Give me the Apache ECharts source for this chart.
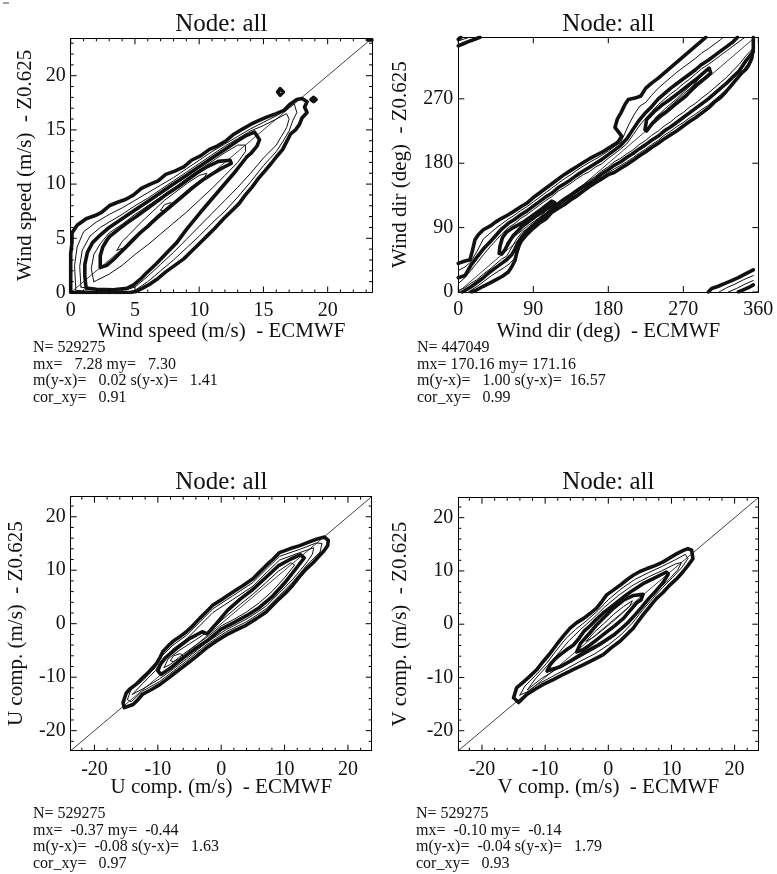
<!DOCTYPE html>
<html><head><meta charset="utf-8">
<script src="https://cdn.jsdelivr.net/npm/echarts@6/dist/echarts.min.js"></script>
<style>html,body{margin:0;padding:0;background:#fff}#c{width:777px;height:874px}</style>
</head><body><div id="c"></div>
<script>
// ---------------- tick values & extents ----------------
const wsMajor = [0, 5, 10, 15, 20];
const wsMinor = [1,2,3,4,6,7,8,9,11,12,13,14,16,17,18,19,21,22,23];
const wdMajor = [0, 90, 180, 270, 360];
const uvMajor = [-20, -10, 0, 10, 20];
const uvMinor = [-22,-18,-16,-14,-12,-8,-6,-4,-2,2,4,6,8,12,14,16,18,22];
const wsRange = [0, 23.45];
const wdRangeX = [0, 360];
const wdRangeY = [0, 356];
const uvRange = [-23.75, 23.75];

// ---------------- texts ----------------
const titles = ['Node: all', 'Node: all', 'Node: all', 'Node: all'];
const xNames = ['Wind speed (m/s)  - ECMWF', 'Wind dir (deg)  - ECMWF', 'U comp. (m/s)  - ECMWF', 'V comp. (m/s)  - ECMWF'];
const yNames = ['Wind speed (m/s)  - Z0.625', 'Wind dir (deg)  - Z0.625', 'U comp. (m/s)  - Z0.625', 'V comp. (m/s)  - Z0.625'];
const stats1 = ['N= 529275', 'mx=   7.28 my=   7.30', 'm(y-x)=   0.02 s(y-x)=   1.41', 'cor_xy=   0.91'];
const stats2 = ['N= 447049', 'mx= 170.16 my= 171.16', 'm(y-x)=   1.00 s(y-x)=  16.57', 'cor_xy=   0.99'];
const stats3 = ['N= 529275', 'mx=  -0.37 my=  -0.44', 'm(y-x)=  -0.08 s(y-x)=   1.63', 'cor_xy=   0.97'];
const stats4 = ['N= 529275', 'mx=  -0.10 my=  -0.14', 'm(y-x)=  -0.04 s(y-x)=   1.79', 'cor_xy=   0.93'];

// ---------------- panel 1: wind speed contours ----------------
const wsA = [[0,0],[0,1.5],[0,3.6],[0.1,4.6],[0.1,5.5],[0.5,6.2],[1.2,6.8],[1.9,7.1],[2.4,7.4],[3.0,8.0],[3.6,8.3],[4.3,8.6],[4.9,9.0],[5.5,9.6],[6.2,10.0],[6.8,10.3],[7.4,10.9],[8.1,11.2],[8.8,11.6],[9.4,12.2],[10.1,12.6],[10.8,13.2],[11.4,13.5],[12.1,14.0],[12.7,14.6],[13.4,15.1],[14.0,15.5],[14.7,15.9],[15.3,16.2],[16.0,16.5],[16.6,16.8],[17.1,17.4],[17.6,17.8],[18.0,17.9],[18.4,17.6],[18.2,17.1],[18.4,16.6],[18.0,16.1],[17.8,15.5],[17.5,15.0],[17.1,14.6],[16.8,13.9],[16.5,13.2],[16.0,12.5],[15.6,11.9],[15.1,11.2],[14.6,10.5],[14.1,9.7],[13.6,9.0],[13.1,8.2],[12.5,7.5],[11.9,6.8],[11.2,5.9],[10.6,5.2],[10.0,4.5],[9.4,3.8],[8.8,3.1],[8.1,2.5],[7.4,1.9],[6.8,1.3],[6.2,0.8],[5.6,0.4],[5.1,0.1],[4.6,0],[0,0]];
const wsIsl1 = [[16.1,18.5],[16.3,18.8],[16.55,18.5],[16.3,18.2],[16.1,18.5]];
const wsIsl2 = [[18.7,17.8],[18.9,18.0],[19.1,17.8],[18.9,17.6],[18.7,17.8]];
const wsIsl3 = [[23.15,23.3],[23.3,23.45],[23.45,23.3],[23.3,23.15],[23.15,23.3]];
const wsT1 = [[0.4,0.2],[0.3,2.5],[0.5,4.2],[1.0,5.6],[2.0,6.5],[3.0,7.2],[4.0,7.8],[5.0,8.5],[6.0,9.2],[7.0,9.9],[8.0,10.6],[9.0,11.4],[10.0,12.2],[11.0,13.0],[12.0,13.7],[13.0,14.4],[14.0,15.1],[15.0,15.7],[16.0,16.3],[16.8,16.9],[17.4,17.4],[17.6,16.6],[17.3,15.9],[17.0,14.9],[16.5,13.9],[16.0,13.0],[15.0,11.7],[14.0,10.2],[13.0,8.8],[12.0,7.5],[11.0,6.4],[10.0,5.2],[9.0,4.1],[8.0,3.0],[7.0,2.0],[6.0,1.0],[5.0,0.2],[4.6,0.05],[3.0,0.05],[1.5,0.1],[0.4,0.2]];
const wsT2 = [[0.8,0.5],[0.7,2.4],[0.9,3.9],[1.5,5.2],[2.3,6.0],[3.0,6.5],[4.0,7.2],[5.0,8.0],[6.0,8.7],[7.0,9.5],[8.0,10.3],[9.0,11.1],[10.0,11.9],[11.0,12.7],[12.0,13.5],[13.0,14.2],[14.0,14.9],[15.0,15.4],[16.0,16.0],[16.8,16.5],[17.0,16.0],[16.8,15.2],[16.4,14.4],[16.0,13.6],[15.0,12.4],[14.0,11.0],[13.0,9.7],[12.0,8.5],[11.0,7.3],[10.0,6.1],[9.0,4.9],[8.0,3.7],[7.0,2.6],[6.0,1.5],[5.0,0.5],[4.3,0.25],[3.0,0.3],[1.8,0.3],[0.8,0.5]];
const wsB = [[1.2,0.4],[1.1,1.5],[1.1,2.6],[1.3,3.7],[1.7,4.6],[2.3,5.3],[3.0,6.0],[4.0,6.8],[5.0,7.6],[6.0,8.4],[7.0,9.2],[8.0,10.0],[9.0,10.8],[10.0,11.6],[11.0,12.4],[12.0,13.2],[13.0,14.0],[13.7,14.5],[14.3,14.8],[14.7,14.1],[14.5,13.5],[14.0,12.8],[13.7,12.5],[12.7,11.0],[11.4,9.2],[10.1,7.4],[9.0,5.8],[8.25,4.6],[7.5,3.7],[6.7,2.7],[5.9,1.8],[5.4,1.2],[4.9,0.7],[4.4,0.4],[3.3,0.25],[2.0,0.3],[1.2,0.4]];
const wsT3 = [[1.8,1.0],[1.6,2.2],[1.8,3.5],[2.3,4.5],[3.0,5.5],[4.0,6.3],[5.0,7.2],[6.0,8.0],[7.0,8.8],[8.0,9.6],[9.0,10.5],[10.0,11.3],[11.0,12.1],[12.0,12.9],[13.0,13.6],[13.6,13.6],[13.6,13.0],[13.0,12.0],[12.0,10.8],[11.0,9.6],[10.0,8.5],[9.0,7.4],[8.0,6.4],[7.0,5.4],[6.0,4.4],[5.0,3.5],[4.0,2.5],[3.0,1.7],[2.0,1.1],[1.8,1.0]];
const wsC = [[2.3,2.5],[2.3,3.4],[2.5,4.2],[2.8,4.8],[3.06,5.2],[3.7,5.8],[4.36,6.4],[5.1,7.0],[5.9,7.7],[6.7,8.4],[7.5,9.1],[8.3,9.7],[9.0,10.3],[9.8,11.0],[10.6,11.6],[11.5,12.1],[12.4,12.2],[12.5,11.9],[11.8,11.5],[11.1,11.0],[10.3,10.4],[9.5,9.7],[8.7,8.9],[8.0,8.2],[7.3,7.5],[6.7,6.9],[6.0,6.1],[5.4,5.5],[4.9,4.9],[4.4,4.3],[3.8,3.6],[3.3,3.0],[2.8,2.5],[2.3,2.3],[2.3,2.5]];
const wsT4 = [[3.6,3.9],[4.0,4.7],[4.6,5.4],[5.5,6.5],[6.4,7.5],[7.3,8.5],[8.2,9.3],[9.1,10.1],[10.0,10.8],[10.6,11.0],[10.4,10.6],[9.6,9.9],[8.8,9.1],[8.0,8.3],[7.2,7.5],[6.4,6.7],[5.6,5.8],[4.8,5.0],[4.1,4.1],[3.6,3.9]];
const wsT5 = [[7.0,7.6],[7.3,8.1],[7.8,8.3],[7.9,7.9],[7.4,7.5],[7.0,7.6]];

// ---------------- panel 2: wind direction contours ----------------
const wdAup = [[0,40],[7,43],[14,45],[17,58],[20,73],[24,80],[30,87],[38,92],[45,98],[52,103],[60,108],[67,113],[75,119],[82,124],[90,132],[97,138],[105,145],[112,151],[120,158],[127,164],[135,170],[142,175],[150,181],[157,186],[165,191],[172,195],[180,201],[187,206],[192,210],[196,218],[188,230],[191,242],[195,250],[200,262],[204,269],[212,271],[219,274],[225,285],[232,292],[240,299],[247,306],[255,314],[262,321],[270,329],[277,336],[285,344],[291,350],[297,356]];
const wdAlo = [[354,356],[354,340],[352,326],[348,316],[345,311],[340,306],[330,292],[322,281],[315,272],[307,265],[300,257],[292,250],[285,244],[277,238],[270,232],[262,225],[255,220],[247,214],[240,208],[232,202],[225,196],[217,190],[210,184],[202,178],[195,173],[187,167],[180,164],[172,158],[165,153],[157,147],[150,141],[142,134],[135,129],[127,122],[120,117],[112,111],[105,102],[97,96],[90,89],[82,80],[76,72],[72,64],[70,54],[68,44],[64,35],[60,28],[53,22],[45,17],[37,12],[30,8],[22,3],[16,0]];
const wdT1up = [[0,30],[8,35],[15,42],[22,56],[30,74],[38,82],[45,89],[52,95],[60,102],[67,107],[75,114],[82,119],[90,126],[97,132],[105,139],[112,145],[120,152],[127,158],[135,164],[142,170],[150,176],[157,181],[165,186],[172,191],[180,197],[187,203],[195,209],[200,222],[205,235],[212,250],[218,260],[225,265],[232,275],[240,285],[247,292],[255,300],[262,307],[270,314],[277,320],[285,327],[292,334],[300,340],[307,346],[315,353],[318,356]];
const wdT1lo = [[354,328],[345,315],[337,301],[330,292],[322,283],[315,276],[307,268],[300,261],[292,255],[285,249],[277,243],[270,237],[262,231],[255,225],[247,219],[240,212],[232,206],[225,200],[217,194],[210,188],[202,182],[195,177],[187,172],[180,167],[172,161],[165,155],[157,149],[150,143],[142,137],[135,132],[127,126],[120,120],[112,113],[105,106],[97,99],[90,92],[82,84],[78,76],[75,66],[72,56],[68,48],[62,40],[55,34],[48,29],[40,23],[32,16],[24,9],[16,3],[12,0]];
const wdBup = [[0,20],[8,23],[15,37],[22,48],[30,60],[38,70],[45,79],[52,88],[60,96],[67,101],[75,108],[82,113],[90,120],[97,126],[105,133],[112,138],[120,146],[127,151],[135,157],[142,163],[150,169],[157,174],[165,180],[172,185],[180,192],[187,198],[195,205],[202,214],[210,228],[217,240],[225,251],[232,259],[240,270],[247,277],[255,285],[262,291],[270,298],[277,304],[285,311],[292,318],[300,324],[307,330],[315,337],[322,343],[330,350],[335,356]];
const wdBlo = [[354,336],[345,323],[337,309],[330,301],[322,292],[315,285],[307,277],[300,270],[292,263],[285,257],[277,250],[270,244],[262,237],[255,231],[247,225],[240,218],[232,212],[225,206],[217,200],[210,194],[202,188],[195,182],[187,177],[180,171],[172,165],[165,158],[157,152],[150,147],[142,141],[135,135],[127,129],[120,123],[112,115],[105,108],[97,101],[90,93],[82,85],[76,77],[72,70],[68,60],[64,52],[58,45],[52,40],[45,34],[38,28],[30,20],[22,13],[15,7],[8,2],[5,0]];
const wdT2up = [[0,12],[8,20],[15,30],[22,40],[30,52],[38,63],[45,72],[52,81],[60,90],[67,95],[75,103],[82,108],[90,115],[97,121],[105,128],[112,133],[120,141],[127,146],[135,152],[142,158],[150,164],[157,168],[165,175],[172,179],[180,187],[187,193],[195,200],[202,207],[210,220],[217,232],[225,243],[232,252],[240,262],[247,269],[255,277],[262,283],[270,291],[277,297],[285,305],[292,312],[300,318],[307,324],[315,331],[322,337],[330,344],[337,350],[344,356]];
const wdT2lo = [[354,341],[345,330],[337,318],[330,310],[322,300],[315,293],[307,285],[300,278],[292,271],[285,264],[277,258],[270,251],[262,245],[255,238],[247,232],[240,225],[232,219],[225,212],[217,206],[210,199],[202,193],[195,187],[187,182],[180,175],[172,169],[165,162],[157,156],[150,150],[142,144],[135,138],[127,132],[120,126],[112,117],[105,110],[97,103],[90,96],[82,88],[76,83],[70,74],[66,66],[62,58],[58,50],[52,46],[45,39],[38,32],[30,25],[22,17],[15,12],[8,6],[0,2]];
const wdC1 = [[49,54],[50,64],[53,76],[58,84],[66,90],[77,97],[88,106],[100,116],[112,127],[116,125],[110,119],[98,110],[86,100],[76,91],[66,79],[60,68],[56,59],[52,53],[49,54]];
const wdC2 = [[224,227],[226,241],[235,252],[244,261],[254,269],[264,278],[275,288],[285,297],[295,307],[301,313],[303,306],[296,299],[285,289],[273,274],[260,262],[250,252],[242,246],[233,236],[226,225],[224,227]];
const wdC1in = [[58,68],[64,78],[74,88],[86,99],[98,108],[104,112],[96,103],[84,93],[72,82],[62,72],[58,68]];
const wdC2in = [[236,243],[248,256],[262,270],[278,288],[290,300],[282,289],[266,272],[250,255],[238,243],[236,243]];
const wdTLthick = [[0,344],[6,347],[12,350],[19,353],[26,356]];
const wdTLthin = [[0,351],[8,354],[13,356]];
const wdTLblob = [[0,353],[3,356]];
const wdBRthick1 = [[300,0],[304,5],[312,8],[320,12],[328,16],[336,20],[344,25],[354,31]];
const wdBRthin1 = [[313,0],[322,6],[332,11],[342,17],[354,23]];
const wdBRthin2 = [[324,0],[334,5],[344,11],[354,16]];
const wdBRthick2 = [[336,0],[342,3],[348,6],[354,10]];

// ---------------- panel 3: U component contours ----------------
const uA = [[-15.5,-14.8],[-15.0,-13.0],[-14.5,-12.3],[-13.5,-11.4],[-12.4,-10.1],[-11.4,-9.0],[-10.3,-7.6],[-9.6,-6.2],[-9.2,-5.2],[-8.4,-4.2],[-7.6,-3.3],[-6.6,-2.5],[-5.5,-1.5],[-4.5,-0.4],[-3.4,1.0],[-2.3,2.3],[-1.3,3.5],[0.2,4.6],[1.8,5.9],[3.4,7.1],[5.0,8.4],[6.0,9.6],[7.1,10.9],[8.2,12.1],[9.2,13.3],[10.8,14.0],[12.4,14.6],[13.7,15.2],[15.0,15.8],[16.3,16.2],[16.9,15.6],[16.8,14.6],[16.2,13.6],[15.5,12.7],[14.5,11.4],[13.4,10.2],[12.3,8.7],[11.3,7.2],[10.2,5.8],[9.2,4.7],[8.1,3.4],[7.1,2.2],[5.5,0.9],[3.9,-0.3],[2.3,-1.2],[0.8,-2.1],[-0.8,-3.3],[-2.4,-4.6],[-3.9,-6.1],[-5.5,-7.6],[-6.6,-8.6],[-7.6,-9.5],[-8.7,-10.5],[-9.7,-11.4],[-11.0,-12.3],[-12.4,-13.2],[-13.2,-14.3],[-13.9,-15.1],[-15.3,-15.7],[-15.5,-14.8]];
const uT1 = [[-14.8,-14.2],[-14.2,-12.2],[-12.4,-10.7],[-10.4,-8.2],[-9.4,-6.1],[-7.6,-4.0],[-5.5,-2.2],[-3.4,0.3],[-1.3,2.8],[1.8,5.2],[5.0,7.7],[7.1,10.2],[9.2,12.6],[12.4,13.9],[15.0,15.1],[15.9,15.0],[15.6,13.4],[13.4,10.8],[11.3,7.8],[9.2,5.3],[7.1,2.8],[5.5,1.5],[3.9,0.3],[0.8,-1.5],[-2.4,-4.0],[-5.5,-7.0],[-7.6,-8.9],[-9.7,-10.8],[-12.4,-12.6],[-14.2,-14.6],[-14.8,-14.2]];
const uT2 = [[-14.0,-13.2],[-12.4,-11.2],[-10.4,-8.8],[-9.4,-6.8],[-7.6,-4.7],[-5.5,-2.9],[-3.4,-0.4],[-1.3,2.1],[1.8,4.5],[5.0,7.0],[7.1,9.5],[9.2,11.9],[12.4,13.3],[14.6,14.2],[14.4,13.0],[13.4,11.3],[11.3,8.3],[9.2,5.8],[7.1,3.3],[5.5,2.0],[3.9,0.8],[0.8,-1.1],[-2.4,-3.6],[-5.5,-6.6],[-7.6,-8.5],[-9.7,-10.3],[-12.4,-12.2],[-14.0,-13.2]];
const uB = [[-10.0,-8.8],[-9.6,-7.6],[-8.8,-6.4],[-7.0,-4.6],[-5.0,-2.8],[-3.0,-1.5],[-2.2,-1.9],[-1.0,-0.3],[1.0,2.5],[3.0,4.6],[5.0,6.4],[7.0,8.6],[9.0,10.8],[11.0,12.1],[12.5,12.9],[13.1,12.3],[12.0,10.6],[10.0,7.6],[8.0,5.0],[6.0,3.0],[4.0,1.5],[2.0,0.2],[0.0,-1.0],[-2.0,-3.0],[-4.0,-4.6],[-6.0,-6.4],[-8.0,-8.3],[-9.5,-9.5],[-10.0,-8.8]];
const uT3 = [[-9.0,-8.2],[-8.4,-6.6],[-6.5,-4.9],[-4.0,-3.0],[-1.5,-1.0],[1.0,1.6],[3.0,3.6],[5.0,5.5],[7.0,7.6],[9.0,9.8],[11.0,11.4],[11.6,11.0],[10.0,8.6],[8.0,6.0],[6.0,3.9],[4.0,2.2],[2.0,0.8],[0.0,-0.4],[-2.0,-2.3],[-4.0,-4.0],[-6.0,-5.7],[-8.0,-7.6],[-9.0,-8.2]];
const uT4 = [[-8.0,-6.9],[-7.5,-6.0],[-6.5,-5.6],[-6.0,-6.0],[-6.6,-6.6],[-7.6,-7.1],[-8.0,-6.9]];

// ---------------- panel 4: V component contours ----------------
const vA = [[-15.0,-13.8],[-14.5,-11.9],[-13.5,-10.9],[-12.4,-9.75],[-11.3,-8.5],[-10.3,-7.0],[-9.3,-5.6],[-8.2,-3.85],[-7.1,-2.2],[-6.05,-0.75],[-5.0,0.3],[-3.9,1.1],[-2.9,2.0],[-1.85,3.0],[-1.0,4.3],[-0.26,5.5],[0.8,6.4],[1.85,7.3],[2.9,8.3],[3.95,9.2],[5.0,9.9],[6.05,10.4],[7.4,11.0],[8.7,11.7],[9.8,12.5],[10.8,13.2],[11.8,13.8],[12.6,14.2],[13.2,13.9],[13.4,12.3],[12.6,11.0],[11.8,9.8],[10.8,8.5],[9.7,7.3],[8.7,6.0],[7.6,4.8],[6.5,3.2],[5.5,1.75],[4.7,0.5],[3.95,-0.75],[2.9,-2.0],[1.85,-3.2],[0.5,-4.4],[-0.8,-5.7],[-2.4,-6.7],[-3.9,-7.6],[-5.5,-8.5],[-7.1,-9.4],[-8.7,-10.4],[-10.3,-11.3],[-11.6,-12.2],[-12.9,-13.2],[-14.2,-14.7],[-15.0,-13.8]];
const vT1 = [[-14.0,-13.3],[-13.2,-11.6],[-11.5,-9.6],[-9.8,-7.4],[-8.4,-5.2],[-6.8,-2.8],[-5.2,-1.0],[-3.4,0.7],[-1.6,2.6],[0.0,4.6],[2.0,6.6],[4.2,8.4],[6.4,9.7],[8.6,10.9],[10.6,12.1],[12.2,13.1],[12.6,12.3],[11.6,10.6],[10.2,8.8],[8.6,6.9],[7.0,4.8],[5.4,2.6],[3.8,0.2],[2.0,-2.0],[0.0,-3.9],[-2.2,-5.6],[-4.5,-7.0],[-6.8,-8.5],[-9.0,-9.9],[-11.2,-11.3],[-13.0,-12.8],[-14.0,-13.3]];
const vT2 = [[-12.8,-12.3],[-11.5,-10.2],[-9.8,-8.0],[-8.0,-5.6],[-6.3,-3.2],[-4.4,-1.0],[-2.4,1.1],[-0.6,3.2],[1.6,5.4],[4.0,7.4],[6.4,8.9],[8.6,10.1],[10.6,11.3],[11.6,11.6],[11.0,10.2],[9.6,8.4],[8.0,6.6],[6.4,4.5],[4.8,2.3],[3.0,0.0],[1.0,-2.2],[-1.2,-4.0],[-3.6,-5.6],[-6.0,-7.2],[-8.4,-8.6],[-10.6,-10.2],[-12.8,-12.3]];
const vB = [[-9.7,-8.8],[-9.2,-7.6],[-8.4,-6.5],[-7.6,-5.7],[-6.5,-4.7],[-5.5,-3.9],[-4.6,-2.6],[-3.9,-1.4],[-2.8,-0.2],[-1.8,1.0],[-0.8,2.1],[0.6,3.4],[2.4,5.1],[3.8,6.3],[5.5,7.6],[7.2,8.6],[9.2,9.8],[9.5,9.4],[8.6,7.7],[7.5,6.2],[6.4,4.8],[5.3,3.2],[4.2,1.7],[3.2,0.4],[2.0,-0.9],[0.9,-2.0],[-0.3,-2.9],[-1.6,-3.9],[-3.0,-4.8],[-4.5,-5.8],[-6.0,-6.9],[-7.6,-8.0],[-9.7,-8.8]];
const vC = [[-5.0,-5.2],[-4.4,-3.6],[-2.9,-1.6],[-1.9,-0.2],[-0.8,1.1],[0.8,3.0],[2.4,4.5],[4.0,5.4],[5.5,5.6],[5.2,4.6],[4.5,4.0],[3.4,2.5],[2.4,1.1],[1.0,-0.3],[-0.3,-1.5],[-1.6,-2.7],[-2.9,-3.9],[-4.0,-4.8],[-5.0,-5.2]];
const vT3 = [[-3.5,-3.2],[-2.2,-1.5],[-0.8,0.0],[0.8,1.8],[2.4,3.3],[3.8,4.4],[3.4,3.4],[2.0,1.8],[0.5,0.3],[-1.0,-1.2],[-2.4,-2.5],[-3.5,-3.2]];

// ---------------- layout ----------------
const FONT = 'Liberation Serif';
const INK = '#111';
const grids = [
  {left: 70.7, top: 38.3, width: 301.3, height: 254.2, show: false},
  {left: 458.3, top: 37.3, width: 300, height: 254.7, show: false},
  {left: 70.7, top: 496.7, width: 301, height: 254, show: false},
  {left: 458.3, top: 497.7, width: 300, height: 253, show: false}
];
const panels = [
  {xr: wsRange, yr: wsRange, major: wsMajor, minor: wsMinor, xMargin: 8,
   thick: [wsA, wsIsl1, wsIsl2, wsIsl3, wsB, wsC], thin: [wsT1, wsT2, wsT3, wsT4, wsT5]},
  {xr: wdRangeX, yr: wdRangeY, major: wdMajor, minor: [], xMargin: 8,
   thick: [wdAup, wdAlo, wdBup, wdBlo, wdC1, wdC2, wdTLthick, wdTLblob, wdBRthick1, wdBRthick2],
   thin: [wdT1up, wdT1lo, wdT2up, wdT2lo, wdC1in, wdC2in, wdTLthin, wdBRthin1, wdBRthin2]},
  {xr: uvRange, yr: uvRange, major: uvMajor, minor: uvMinor, xMargin: 9,
   thick: [uA, uB], thin: [uT1, uT2, uT3, uT4]},
  {xr: uvRange, yr: uvRange, major: uvMajor, minor: uvMinor, xMargin: 9,
   thick: [vA, vB, vC], thin: [vT1, vT2, vT3]}
];

const xAxes = [], yAxes = [], series = [];
panels.forEach((p, g) => {
  const mkAx = (pos, r, labels, lab) => ({type: 'value', gridIndex: g, position: pos, min: r[0], max: r[1],
    axisLine: {show: true, onZero: false, lineStyle: {color: '#000', width: 1}}, splitLine: {show: false},
    axisLabel: lab ? {show: true, customValues: labels, margin: lab, fontSize: 20, fontFamily: FONT, color: INK} : {show: false},
    axisTick: {show: false}});
  xAxes.push(mkAx('bottom', p.xr, p.major, p.xMargin));
  xAxes.push(mkAx('top', p.xr, p.major, 0));
  yAxes.push(mkAx('left', p.yr, p.major, 5));
  yAxes.push(mkAx('right', p.yr, p.major, 0));
  const xi = g * 2, yi = g * 2;
  const mk = (data, w, z) => ({type: 'line', xAxisIndex: xi, yAxisIndex: yi, data: data, symbol: 'none', showSymbol: false,
    smooth: false, clip: true, z: z, lineStyle: {color: INK, width: w, join: 'round', cap: 'round'}});
  // inward tick marks drawn as short segments from each tick value (lengths converted from pixels)
  const gr = grids[g];
  const dx = (p.xr[1] - p.xr[0]) / gr.width, dy = (p.yr[1] - p.yr[0]) / gr.height;
  const inX = v => v >= p.xr[0] && v <= p.xr[1];
  const inY = v => v >= p.yr[0] && v <= p.yr[1];
  const tick = (data) => ({type: 'line', xAxisIndex: xi, yAxisIndex: yi, data: data, symbol: 'none', showSymbol: false,
    clip: false, z: 6, lineStyle: {color: '#000', width: 1, cap: 'butt'}});
  [[p.major, 6], [p.minor, 3]].forEach(([vals, len]) => {
    vals.filter(inX).forEach(v => {
      series.push(tick([[v, p.yr[0]], [v, p.yr[0] + len * dy]]));
      series.push(tick([[v, p.yr[1]], [v, p.yr[1] - len * dy]]));
    });
    vals.filter(inY).forEach(v => {
      series.push(tick([[p.xr[0], v], [p.xr[0] + len * dx, v]]));
      series.push(tick([[p.xr[1], v], [p.xr[1] - len * dx, v]]));
    });
  });
  const lo = Math.max(p.xr[0], p.yr[0]), hi = Math.min(p.xr[1], p.yr[1]);
  series.push(mk([[lo, lo], [hi, hi]], 0.8, 1));
  p.thin.forEach(d => series.push(mk(d, 1, 2)));
  p.thick.forEach(d => series.push(mk(d, 3.6, 3)));
});

const txt = (t, x, y, size, align, rot) => ({type: 'text', x: x, y: y, rotation: rot || 0,
  style: {text: t, fontSize: size, fontFamily: FONT, fill: INK, align: align, verticalAlign: 'middle'}});
const graphics = [{type: 'line', shape: {x1: 3, y1: 3, x2: 9, y2: 3}, style: {stroke: '#444', lineWidth: 1}}];
const titlePos = [[221.3, 24], [608.3, 24], [221.3, 482.5], [608.3, 482.5]];
titles.forEach((t, i) => graphics.push(txt(t, titlePos[i][0], titlePos[i][1], 25, 'center')));
const xNamePos = [[221.3, 331], [608.3, 331], [221.3, 787], [608.3, 787]];
xNames.forEach((t, i) => graphics.push(txt(t, xNamePos[i][0], xNamePos[i][1], 21, 'center')));
const yNamePos = [[25, 165.4], [400, 164.6], [16.5, 623.7], [400, 624.2]];
yNames.forEach((t, i) => graphics.push(txt(t, yNamePos[i][0], yNamePos[i][1], 21, 'center', Math.PI / 2)));
const statSets = [[stats1, 33, 348], [stats2, 417, 348], [stats3, 33, 814], [stats4, 416, 814]];
statSets.forEach(s => s[0].forEach((line, k) => graphics.push(txt(line, s[1], s[2] + k * 16.6, 16, 'left'))));

const chart = echarts.init(document.getElementById('c'));
chart.setOption({
  animation: false,
  backgroundColor: '#fff',
  grid: grids,
  xAxis: xAxes, yAxis: yAxes, series: series, graphic: graphics
});
</script></body></html>
